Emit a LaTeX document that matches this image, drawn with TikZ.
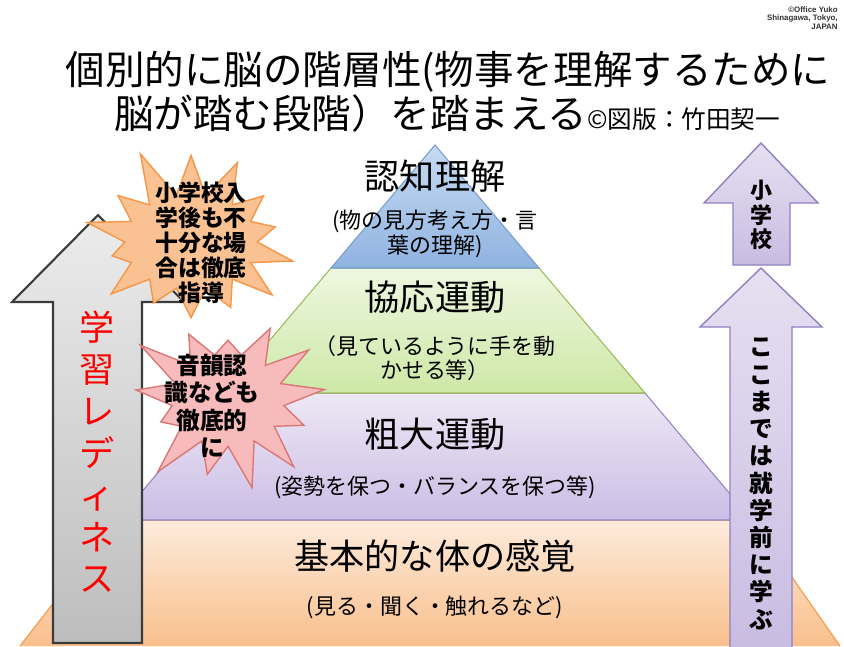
\documentclass[tikz,border=0pt]{standalone}
\usepackage{fontspec}
\setmainfont{Noto Sans CJK JP}
\newfontfamily\latinfont{Liberation Sans}
\usetikzlibrary{shapes.symbols}

\definecolor{bluetop}{HTML}{C6DAF2}
\definecolor{bluebot}{HTML}{8FB3E0}
\definecolor{blueline}{HTML}{7A9CCB}
\definecolor{greentop}{HTML}{EEF7E0}
\definecolor{greenbot}{HTML}{CDE8A6}
\definecolor{greenline}{HTML}{9BBB59}
\definecolor{purpletop}{HTML}{EDE8F5}
\definecolor{purplebot}{HTML}{CCBDE5}
\definecolor{purpleline}{HTML}{9484BE}
\definecolor{orangetop}{HTML}{FDEBDC}
\definecolor{orangebot}{HTML}{F9BF8C}
\definecolor{orangeline}{HTML}{F79646}
\definecolor{greytop}{HTML}{ECECEC}
\definecolor{greybot}{HTML}{BDBDBD}
\definecolor{greyline}{HTML}{3C3C3C}
\definecolor{lilactop}{HTML}{E6E0F1}
\definecolor{lilacbot}{HTML}{C9BCE2}
\definecolor{lilacline}{HTML}{8F80BF}
\definecolor{starorange}{HTML}{FAC292}
\definecolor{starpink}{HTML}{F8BBBB}
\definecolor{starpinkline}{HTML}{DA7778}

\tikzset{
  layer/.style={line width=0.6pt},
  layertitle/.style={font=\fontsize{20pt}{20pt}\selectfont},
  layernote/.style={align=center,font=\fontsize{12.5pt}{14pt}\selectfont},
  burst/.style={starburst,inner sep=0pt,line width=0.8pt,starburst point height=1.05cm},
  bursttext/.style={align=center,font=\bfseries\fontsize{13pt}{14.2pt}\selectfont},
  title/.style={font=\fontsize{22.5pt}{22.5pt}\selectfont},
}

\begin{document}
\begin{tikzpicture}[x=0.02cm,y=-0.02cm]
\useasboundingbox (0,0) rectangle (844,646);
\fill[white] (0,0) rectangle (844,646);

\node[align=right,anchor=north east,inner sep=0pt,text=black!80,font=\latinfont\bfseries\fontsize{4.5pt}{5pt}\selectfont] (copy) at (838,6) {©Office Yuko\\Shinagawa, Tokyo,\\JAPAN};
\node[title] (head1) at (448,72) {個別的に脳の階層性(物事を理解するために};
\node[title,anchor=west] (head2) at (108,113) {脳が踏む段階）を踏まえる{\fontsize{14pt}{14pt}\selectfont ©図版：竹田契一}};

\shade[top color=orangetop,bottom color=orangebot] (118,520) -- (752,520) -- (840,646) -- (20,646) -- cycle;
\draw[orangeline,layer] (20,646) -- (118,520) -- (752,520) -- (840,646);
\shade[draw=purpleline,layer,top color=purpletop,bottom color=purplebot] (225,393) -- (645,393) -- (752,520) -- (118,520) -- cycle;
\shade[draw=greenline,layer,top color=greentop,bottom color=greenbot] (331,268) -- (539,268) -- (645,393) -- (225,393) -- cycle;
\shade[draw=blueline,layer,top color=bluetop,bottom color=bluebot] (435,145) -- (539,268) -- (331,268) -- cycle;

\node[layertitle] (cog) at (435,176) {認知理解};
\node[layernote] (cognote) at (435,234) {(物の見方考え方・言\\葉の理解)};
\node[layertitle] (coord) at (435,297) {協応運動};
\node[layernote] (coordnote) at (435,358) {（見ているように手を動\\かせる等）};
\node[layertitle] (gross) at (435,434) {粗大運動};
\node[layernote] (grossnote) at (435,487) {(姿勢を保つ・バランスを保つ等)};
\node[layertitle] (basic) at (435,556) {基本的な体の感覚};
\node[layernote] (basicnote) at (435,607) {(見る・聞く・触れるなど)};

\shade[draw=greyline,line width=1.2pt,top color=greytop,bottom color=greybot] (53,643) -- (53,302) -- (12,302) -- (98,215) -- (184,302) -- (142,302) -- (142,643) -- cycle;
\shade[draw=lilacline,line width=0.8pt,top color=lilactop,bottom color=lilacbot] (733,265) -- (733,203) -- (704,203) -- (761,143) -- (818,203) -- (790,203) -- (790,265) -- cycle;
\shade[draw=lilacline,line width=0.8pt,top color=lilactop,bottom color=lilacbot] (730,650) -- (730,327) -- (700,327) -- (761,268) -- (822,327) -- (792,327) -- (792,650) -- cycle;

\node[align=center,text=red,font=\fontsize{20pt}{23.8pt}\selectfont] (ready) at (97,452) {学\\習\\レ\\デ\\ィ\\ネ\\ス};
\node[align=center,font=\bfseries\fontsize{12.5pt}{14pt}\selectfont] (school) at (761,215) {小\\学\\校};
\node[align=center,font=\bfseries\fontsize{13.5pt}{15.5pt}\selectfont] (preschool) at (761,484) {こ\\こ\\ま\\で\\は\\就\\学\\前\\に\\学\\ぶ};

\node[burst,fill=starorange,draw=orangeline,starburst points=14,random starburst=11,minimum width=4.75cm,minimum height=4cm] (burstA) at (191,242) {};
\node[bursttext] (burstAtext) at (201,243) {小学校入\\学後も不\\十分な場\\合は徹底\\指導};
\node[burst,fill=starpink,draw=starpinkline,starburst points=13,random starburst=23,minimum width=4.35cm,minimum height=3.95cm] (burstB) at (228,400) {};
\node[bursttext,font=\bfseries\fontsize{13.5pt}{15.5pt}\selectfont] (burstBtext) at (212,406) {音韻認\\識なども\\徹底的\\に};
\end{tikzpicture}
\end{document}
